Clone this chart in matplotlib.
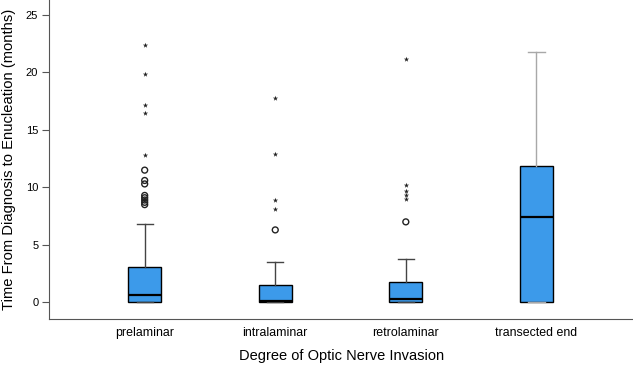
import matplotlib
matplotlib.use('Agg')
import matplotlib.pyplot as plt

plt.rcParams['font.family'] = ['Liberation Sans', 'DejaVu Sans']

# Box summary values
groups = ['prelaminar', 'intralaminar', 'retrolaminar', 'transected end']
q1 = [0.0, 0.0, 0.0, 0.05]
med = [0.65, 0.1, 0.25, 7.4]
q3 = [3.05, 1.5, 1.8, 11.9]
whis_lo = [0.0, 0.0, 0.0, 0.05]
whis_hi = [6.8, 3.5, 3.8, 21.8]

# Outliers (circles) and extremes (stars)
circles = [
    [11.5, 10.6, 10.3, 9.3, 9.1, 8.9, 8.7, 8.5],
    [6.3],
    [7.0],
    [],
]
stars = [
    [22.4, 19.9, 17.2, 16.5, 12.85],
    [17.8, 12.9, 8.9, 8.1],
    [21.2, 10.2, 9.7, 9.3, 9.0],
    [],
]

stats = []
for i, g in enumerate(groups):
    stats.append({'label': g, 'q1': q1[i], 'med': med[i], 'q3': q3[i],
                  'whislo': whis_lo[i], 'whishi': whis_hi[i], 'fliers': []})

fig = plt.figure(figsize=(6.33, 3.65), dpi=100)
ax = fig.add_axes([0.078, 0.126, 0.922, 0.874])

pos = list(range(len(groups)))
bp = ax.bxp(stats, positions=pos, widths=0.25, patch_artist=True, showfliers=False,
            boxprops=dict(facecolor='#3C9AEA', edgecolor='black', linewidth=1.0),
            medianprops=dict(color='black', linewidth=1.6),
            whiskerprops=dict(color='#444444', linewidth=1.0),
            capprops=dict(color='#444444', linewidth=1.0),
            capwidths=0.125)

# last group's whisker is lighter grey
for art in bp['whiskers'][6:8] + bp['caps'][6:8]:
    art.set_color('#a8a8a8')

for i in pos:
    if circles[i]:
        ax.scatter([i] * len(circles[i]), circles[i], s=18, facecolors='none',
                   edgecolors='#222222', linewidths=1.0, zorder=3)
    if stars[i]:
        ax.scatter([i] * len(stars[i]), stars[i], s=16, marker='*',
                   color='#222222', linewidths=0, zorder=3)

ax.set_xlim(-0.73, 3.74)
ax.set_ylim(-1.45, 26.3)
ax.set_yticks([0, 5, 10, 15, 20, 25])
ax.set_xticks(pos)
ax.set_xticklabels(groups, fontsize=8.9)
ax.tick_params(axis='x', length=0, pad=6)
ax.tick_params(axis='y', labelsize=8, length=5, width=0.8, color='#555555', pad=3)
ax.spines['top'].set_visible(False)
ax.spines['right'].set_visible(False)
ax.spines['left'].set_color('#555555')
ax.spines['bottom'].set_color('#555555')
ax.set_xlabel('Degree of Optic Nerve Invasion', fontsize=10.5, labelpad=7)
ax.set_ylabel('Time From Diagnosis to Enucleation (months)', fontsize=10.6, labelpad=7)

fig.savefig('out.png', dpi=100)
